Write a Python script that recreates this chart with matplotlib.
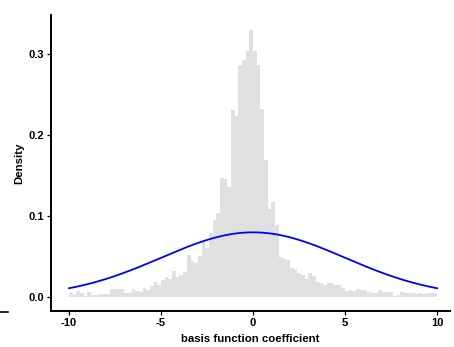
import numpy as np
import matplotlib.pyplot as plt
from matplotlib.lines import Line2D

plt.rcParams['font.family'] = ['Liberation Sans', 'DejaVu Sans']

# histogram: 100 bins of width 0.2 on [-10, 10], density per bin
bin_edges = np.linspace(-10, 10, 101)
density = [
    0.0045, 0.002, 0.007, 0.0053, 0.001, 0.0058, 0.002, 0.0025, 0.0033, 0.0033,
    0.0033, 0.0103, 0.0103, 0.0103, 0.0095, 0.0045, 0.0045, 0.0095, 0.007, 0.006,
    0.0107, 0.008, 0.0136, 0.0185, 0.0144, 0.021, 0.025, 0.0226, 0.032, 0.0247,
    0.0267, 0.031, 0.052, 0.044, 0.042, 0.050, 0.070, 0.061, 0.079, 0.095,
    0.104, 0.147, 0.146, 0.136, 0.231, 0.223, 0.286, 0.293, 0.303, 0.330,
    0.304, 0.286, 0.232, 0.169, 0.109, 0.117, 0.089, 0.049, 0.0465, 0.0457,
    0.036, 0.034, 0.030, 0.027, 0.0226, 0.029, 0.0255, 0.0185, 0.0177, 0.0144,
    0.0177, 0.0177, 0.0144, 0.0144, 0.0107, 0.0074, 0.0086, 0.0074, 0.0103, 0.009,
    0.008, 0.006, 0.0045, 0.0053, 0.0086, 0.006, 0.006, 0.0066, 0.001, 0.002,
    0.0066, 0.0053, 0.0045, 0.0045, 0.0037, 0.0045, 0.0037, 0.005, 0.005, 0.005,
]

# reference normal curve
curve_mean = 0.0
curve_sd = 5.0

fig = plt.figure(figsize=(4.54, 3.47), dpi=100)
ax = fig.add_axes([51 / 454, 1 - 311 / 347, 399 / 454, 296 / 347])

ax.bar(bin_edges[:-1], density, width=np.diff(bin_edges), align='edge',
       color='#e0e0e0', edgecolor='none')

xs = np.linspace(-10, 10, 400)
pdf = np.exp(-0.5 * ((xs - curve_mean) / curve_sd) ** 2) / (curve_sd * np.sqrt(2 * np.pi))
ax.plot(xs, pdf, color='#0000ff', lw=1.3)

ax.set_xlim(-10.98, 10.70)
ax.set_ylim(-0.0173, 0.348)
ax.set_xticks([-10, -5, 0, 5, 10])
ax.set_xticklabels(['-10', '-5', '0', '5', '10'])
ax.set_yticks([0.0, 0.1, 0.2, 0.3])
ax.set_yticklabels(['0.0', '0.1', '0.2', '0.3'])

for side in ['top', 'right']:
    ax.spines[side].set_visible(False)
for side in ['left', 'bottom']:
    ax.spines[side].set_linewidth(1.4)

ax.tick_params(axis='both', length=3, width=0.9, labelsize=8, pad=2)
for lab in ax.get_xticklabels() + ax.get_yticklabels():
    lab.set_fontweight('bold')

ax.set_xlabel('basis function coefficient', fontsize=8.2, fontweight='bold', labelpad=4)
ax.set_ylabel('Density', fontsize=8.2, fontweight='bold', labelpad=3)

fig.add_artist(Line2D([0, 8 / 454], [1 - 312 / 347] * 2, color='black', lw=1.2,
                      transform=fig.transFigure))

fig.savefig('out.png', dpi=100)
